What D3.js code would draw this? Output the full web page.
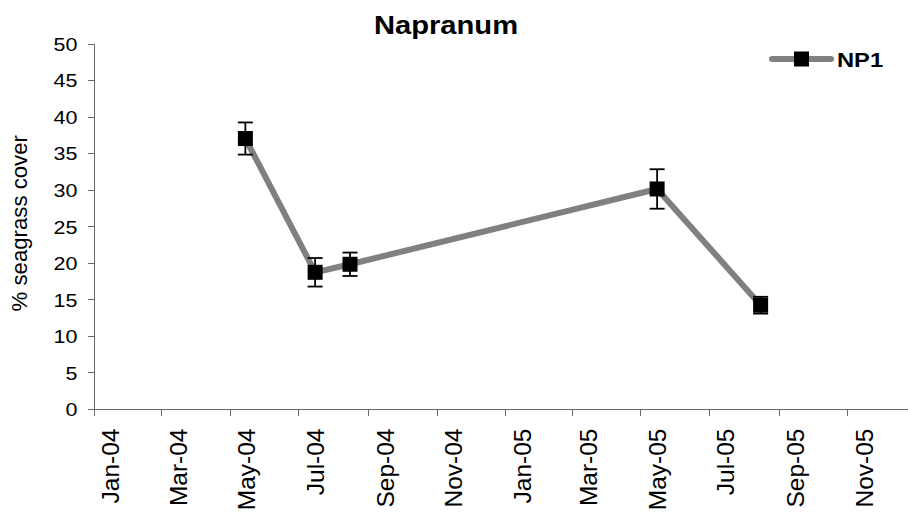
<!DOCTYPE html>
<html>
<head>
<meta charset="utf-8">
<script src="https://cdn.jsdelivr.net/npm/d3@7"></script>
<style>
  html, body { margin: 0; padding: 0; background: #fff; }
  svg { display: block; font-family: "Liberation Sans", Arial, sans-serif; }
</style>
</head>
<body>
<svg id="chart" width="908" height="515"></svg>
<script>
// Seagrass cover at site NP1, Napranum (mean ± error)
const sampleDates = ["2004-05-15", "2004-07-16", "2004-08-16", "2005-05-16", "2005-08-16"];
const coverMean   = [37.0, 18.7, 19.8, 30.1, 14.2];
const coverError  = [2.2, 1.95, 1.6, 2.7, 1.15];

const seriesName = "NP1";
const chartTitle = "Napranum";
const yTitle = "% seagrass cover";

const yTicks = [0, 5, 10, 15, 20, 25, 30, 35, 40, 45, 50];
const xTickDates = ["2004-01-01", "2004-03-01", "2004-05-01", "2004-07-01", "2004-09-01", "2004-11-01",
                    "2005-01-01", "2005-03-01", "2005-05-01", "2005-07-01", "2005-09-01", "2005-11-01"];
const xDomain = ["2004-01-01", "2005-12-25"];

const parse = d3.utcParse("%Y-%m-%d");
const fmt = d3.utcFormat("%b-%y");

const points = sampleDates.map((d, i) => ({ date: parse(d), mean: coverMean[i], err: coverError[i] }));

const svg = d3.select("#chart");
const plot = { left: 93.5, right: 908, top: 43.5, bottom: 409 };

const x = d3.scaleUtc().domain(xDomain.map(parse)).range([plot.left, plot.right]);
const y = d3.scaleLinear().domain([0, 50]).range([plot.bottom, plot.top]);

const axisColor = "#6a6a6a";

// Y axis
const yAxis = svg.append("g")
  .attr("transform", `translate(${plot.left},0)`)
  .call(d3.axisLeft(y).tickValues(yTicks).tickSize(6).tickPadding(0).tickFormat(d3.format("d")));
yAxis.select(".domain").attr("stroke", axisColor).attr("shape-rendering", "crispEdges");
yAxis.selectAll(".tick line").attr("stroke", axisColor).attr("shape-rendering", "crispEdges");
yAxis.selectAll(".tick text").remove();
yAxis.selectAll(".tick").append("text")
  .attr("transform", "translate(-16,6.8) scale(1.13,1)")
  .attr("text-anchor", "end")
  .attr("fill", "#000")
  .attr("font-size", 19)
  .attr("font-family", "Liberation Sans, Arial, sans-serif")
  .text(d => d);

// X axis
const xAxis = svg.append("g")
  .attr("transform", `translate(0,${plot.bottom})`)
  .call(d3.axisBottom(x).tickValues(xTickDates.map(parse)).tickSize(7).tickSizeOuter(0));
xAxis.select(".domain").attr("stroke", axisColor).attr("shape-rendering", "crispEdges");
xAxis.selectAll(".tick line").attr("stroke", axisColor).attr("shape-rendering", "crispEdges");
xAxis.selectAll(".tick text").remove();
xAxis.selectAll(".tick").append("text")
  .attr("transform", "translate(25,19.5) rotate(-90)")
  .attr("text-anchor", "end")
  .attr("fill", "#000")
  .attr("font-size", 24.5)
  .attr("font-family", "Liberation Sans, Arial, sans-serif")
  .text(d => fmt(d));

// Y axis title
svg.append("text")
  .attr("transform", `translate(27,${(plot.top + plot.bottom) / 2 - 3}) rotate(-90)`)
  .attr("text-anchor", "middle")
  .attr("font-size", 22.2)
  .attr("fill", "#000")
  .text(yTitle);

// Chart title
svg.append("text")
  .attr("transform", "translate(446,34) scale(1.1,1)")
  .attr("text-anchor", "middle")
  .attr("font-size", 26.5)
  .attr("font-weight", "bold")
  .attr("fill", "#000")
  .text(chartTitle);

// Series line
const line = d3.line().x(d => x(d.date)).y(d => y(d.mean));
svg.append("path")
  .datum(points)
  .attr("d", line)
  .attr("fill", "none")
  .attr("stroke", "#808080")
  .attr("stroke-width", 6)
  .attr("stroke-linejoin", "round");

// Error bars
const capW = 15;
const eb = svg.append("g").attr("stroke", "#000").attr("stroke-width", 1.8).attr("fill", "none");
points.forEach(p => {
  const cx = x(p.date), y1 = y(p.mean + p.err), y0 = y(p.mean - p.err);
  eb.append("line").attr("x1", cx).attr("x2", cx).attr("y1", y1).attr("y2", y0);
  eb.append("line").attr("x1", cx - capW / 2).attr("x2", cx + capW / 2).attr("y1", y1).attr("y2", y1);
  eb.append("line").attr("x1", cx - capW / 2).attr("x2", cx + capW / 2).attr("y1", y0).attr("y2", y0);
});

// Markers
const ms = 15;
svg.append("g").selectAll("rect")
  .data(points)
  .join("rect")
  .attr("x", d => x(d.date) - ms / 2)
  .attr("y", d => y(d.mean) - ms / 2)
  .attr("width", ms)
  .attr("height", ms)
  .attr("fill", "#000");

// Legend
const lg = svg.append("g");
lg.append("line")
  .attr("x1", 772).attr("x2", 831).attr("y1", 59).attr("y2", 59)
  .attr("stroke", "#808080").attr("stroke-width", 6).attr("stroke-linecap", "round");
lg.append("rect")
  .attr("x", 801.5 - ms / 2).attr("y", 59 - ms / 2).attr("width", ms).attr("height", ms).attr("fill", "#000");
lg.append("text")
  .attr("transform", "translate(837,66.7) scale(1.13,1)")
  .attr("font-size", 21)
  .attr("font-weight", "bold")
  .attr("fill", "#000")
  .text(seriesName);
</script>
</body>
</html>
